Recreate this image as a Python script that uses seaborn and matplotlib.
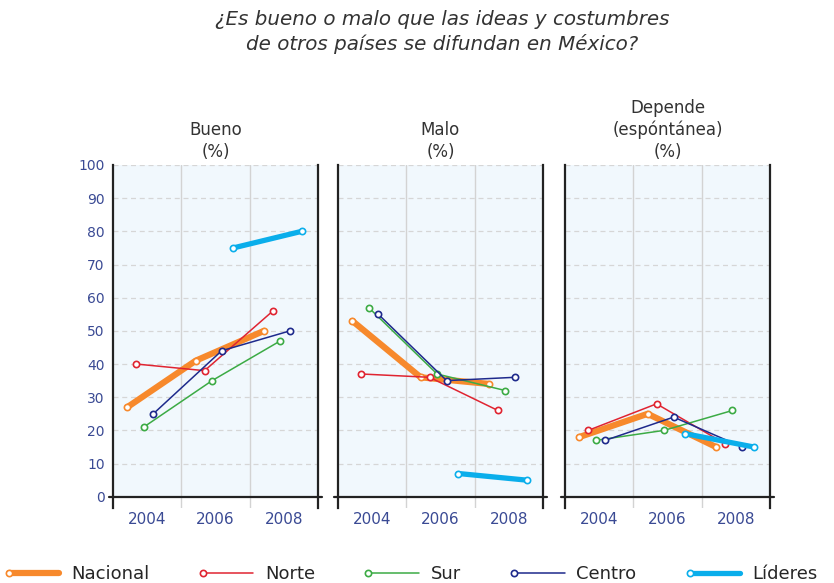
import matplotlib
matplotlib.use("Agg")
import matplotlib.pyplot as plt
import pandas as pd
import seaborn as sns
from matplotlib.legend_handler import HandlerLine2D

# data
years = ["2004", "2006", "2008"]
series = ["Nacional", "Norte", "Sur", "Centro", "Líderes"]
panels = ["Bueno\n(%)", "Malo\n(%)", "Depende\n(espóntánea)\n(%)"]

bueno_nacional = [27, 41, 50]
bueno_norte = [40, 38, 56]
bueno_sur = [21, 35, 47]
bueno_centro = [25, 44, 50]
bueno_lideres = [None, 75, 80]

malo_nacional = [53, 36, 34]
malo_norte = [37, 36, 26]
malo_sur = [57, 37, 32]
malo_centro = [55, 35, 36]
malo_lideres = [None, 7, 5]

depende_nacional = [18, 25, 15]
depende_norte = [20, 28, 16]
depende_sur = [17, 20, 26]
depende_centro = [17, 24, 15]
depende_lideres = [None, 19, 15]

colors = {"Nacional": "#F7892C", "Norte": "#E02431", "Sur": "#3CAB45",
          "Centro": "#1E2A8C", "Líderes": "#0AAEEB"}
widths = {"Nacional": 4.5, "Norte": 1.1, "Sur": 1.1, "Centro": 1.1, "Líderes": 3.8}
offsets = {"Nacional": -0.29, "Norte": -0.16, "Sur": -0.05, "Centro": 0.09, "Líderes": 0.26}

values = {
    panels[0]: [bueno_nacional, bueno_norte, bueno_sur, bueno_centro, bueno_lideres],
    panels[1]: [malo_nacional, malo_norte, malo_sur, malo_centro, malo_lideres],
    panels[2]: [depende_nacional, depende_norte, depende_sur, depende_centro, depende_lideres],
}

rows = []
for panel, lists in values.items():
    for name, vals in zip(series, lists):
        for i, v in enumerate(vals):
            if v is not None:
                rows.append({"panel": panel, "serie": name, "pos": i + offsets[name], "val": v})
df = pd.DataFrame(rows)

sns.set_style("white")
plt.rcParams["font.family"] = ["DejaVu Sans"]

W, H = 834, 583
fig = plt.figure(figsize=(W / 100, H / 100), dpi=100)

tick_col = "#3A4A94"
lefts = [113, 338, 565]
pw = 205
top_px, bot_px = 165, 508

handles = {}
for k, panel in enumerate(panels):
    ax = fig.add_axes([lefts[k] / W, 1 - bot_px / H, pw / W, (bot_px - top_px) / H])
    ax.set_facecolor("white")
    ax.set_xlim(-0.5, 2.5)
    ax.set_ylim(-3.4, 100)
    ax.axhspan(0, 100, color="#F1F8FD", zorder=0, lw=0)
    for y in range(10, 101, 10):
        ax.axhline(y, color="#D6D6D6", lw=0.9, ls=(0, (4, 3)), zorder=1)
    for x in [0.5, 1.5]:
        ax.axvline(x, color="#D3D3D3", lw=1.0, zorder=1)

    sub = df[df["panel"] == panel]
    for name in series:
        d = sub[sub["serie"] == name]
        sns.lineplot(data=d, x="pos", y="val", ax=ax, color=colors[name], lw=widths[name],
                     marker="o", markersize=4.5, markerfacecolor="white",
                     markeredgecolor=colors[name], markeredgewidth=1.2, zorder=3)
        handles[name] = ax.lines[-1]

    ax.axhline(0, xmin=-0.02, xmax=1.02, color="#222222", lw=1.6, clip_on=False, zorder=4)
    for s in ["top", "bottom"]:
        ax.spines[s].set_visible(False)
    for s in ["left", "right"]:
        ax.spines[s].set_color("#222222")
        ax.spines[s].set_linewidth(1.6)
        ax.spines[s].set_bounds(-3.4, 100)

    ax.set_xticks(range(len(years)))
    ax.set_xticklabels(years)
    ax.set_yticks(range(0, 101, 10))
    ax.tick_params(axis="x", length=0, pad=3, labelsize=11, labelcolor=tick_col)
    ax.tick_params(axis="y", length=0, pad=6, labelsize=10, labelcolor=tick_col)
    if k > 0:
        ax.set_yticklabels([])
    ax.set_xlabel("")
    ax.set_ylabel("")
    ax.set_title(panel, fontsize=12, color="#333333", pad=6, linespacing=1.25)


class LeftMarker(HandlerLine2D):
    # legend line with its marker at the left end only
    def create_artists(self, *args, **kwargs):
        arts = super().create_artists(*args, **kwargs)
        for a in arts:
            a.set_markevery([0])
        return arts


fig.legend([handles[n] for n in series], series, loc="center", ncol=5,
           bbox_to_anchor=(413 / W, 1 - 574 / H), frameon=False, fontsize=13,
           handlelength=2.8, handletextpad=0.65, columnspacing=2.95,
           handler_map={h: LeftMarker() for h in handles.values()})

fig.text(442 / W, 1 - 10 / H, "¿Es bueno o malo que las ideas y costumbres\nde otros países se difundan en México?",
         ha="center", va="top", style="italic", fontsize=14.3, color="#333333", linespacing=1.32)

fig.savefig("out.png", dpi=100)
